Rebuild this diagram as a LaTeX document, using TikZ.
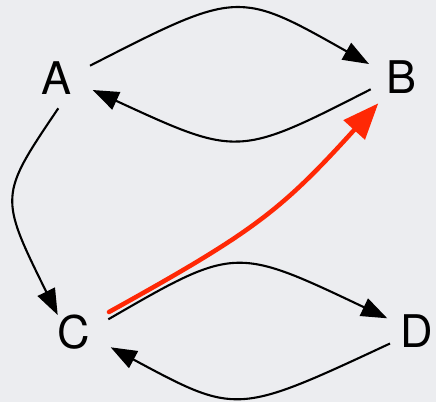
\documentclass[tikz,border=0pt]{standalone}
\usepackage{fontspec}
\setmainfont{TeX Gyre Heros}
\usetikzlibrary{arrows.meta}
\definecolor{bgc}{RGB}{236,237,240}
\definecolor{redc}{RGB}{255,40,5}
\tikzset{
  letter/.style={inner sep=0pt, font=\fontsize{45}{50}\selectfont},
  blackarrow/.style={line width=2.1pt, black, -{Triangle[length=26pt,width=19pt]}},
  redarrow/.style={line width=4.5pt, redc, line cap=round, -{Triangle[length=36pt,width=28pt]}}
}
\begin{document}
\begin{tikzpicture}[x=1pt,y=-1pt]
\fill[bgc] (0,0) rectangle (436,402);
\useasboundingbox (0,0) rectangle (436,402);
\node[letter] (A) at (57,78) {A};
\node[letter] (B) at (402,77.5) {B};
\node[letter] (C) at (74,332) {C};
\node[letter] (D) at (417,331) {D};
% A -> B
\draw[blackarrow] ([shift={(33,-12.3)}]A.center) .. controls +(148,-75.7) and +(-131,-74) .. ([shift={(-33,-13.5)}]B.center);
% B -> A
\draw[blackarrow] ([shift={(-31.3,11.8)}]B.center) .. controls +(-132.7,67.7) and +(145.3,67) .. ([shift={(35.7,12)}]A.center);
% A -> C
\draw[blackarrow] ([shift={(1.3,30.3)}]A.center) .. controls +(-59.3,87.7) and +(-58.7,-119) .. ([shift={(-16.3,-17)}]C.center);
% C -> D
\draw[blackarrow] ([shift={(34.3,-12.7)}]C.center) .. controls +(126.7,-73.3) and +(-152.3,-72.3) .. ([shift={(-29.7,-12.7)}]D.center);
% D -> C
\draw[blackarrow] ([shift={(-27,12.5)}]D.center) .. controls +(-153.3,71.5) and +(126,67.7) .. ([shift={(36.7,15.3)}]C.center);
% C -> B (red)
\draw[redarrow] ([shift={(35,-20)}]C.center) .. controls +(144.9,-80.3) and +(-97.5,107.6) .. ([shift={(-23.7,25.8)}]B.center);
\end{tikzpicture}
\end{document}
